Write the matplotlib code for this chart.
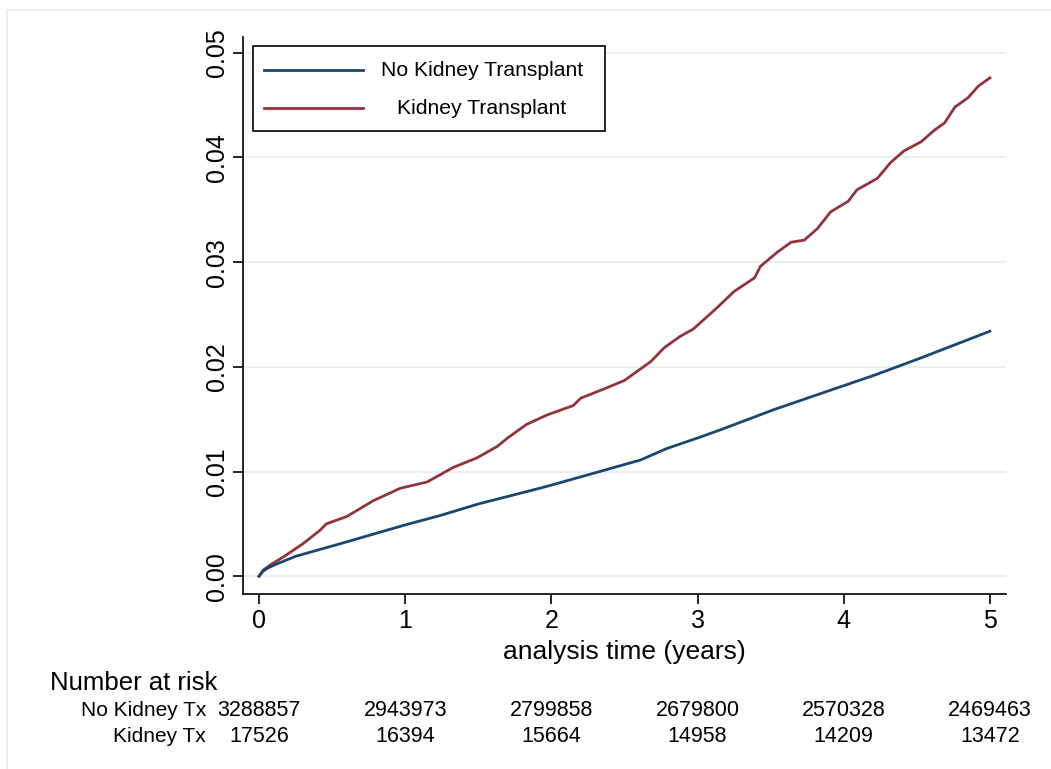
import matplotlib
matplotlib.use("Agg")
import matplotlib.pyplot as plt
import matplotlib.transforms as mtransforms
from matplotlib.patches import Rectangle
from matplotlib.lines import Line2D

plt.rcParams['font.family'] = ['Liberation Sans', 'DejaVu Sans']

# Data
t_no_tx = [0.0, 0.02, 0.05, 0.1, 0.25, 0.555, 1.0, 1.24, 1.5, 1.92, 2.0, 2.61, 2.79, 3.0, 3.16, 3.52, 4.0, 4.21, 4.5, 5.0]
v_no_tx = [0.0, 0.0004, 0.0007, 0.00105, 0.0019, 0.0031, 0.0049, 0.0058, 0.0069, 0.0084, 0.0087, 0.0111, 0.0122, 0.0132, 0.0140, 0.0159, 0.0182, 0.0192, 0.0207, 0.0234]

t_tx = [0.0, 0.03, 0.08, 0.167, 0.30, 0.418, 0.46, 0.60, 0.78, 0.966, 1.15, 1.33, 1.49, 1.63, 1.70,
        1.83, 1.97, 2.15, 2.20, 2.38, 2.50, 2.68, 2.77, 2.88, 2.97, 3.13, 3.25, 3.39, 3.43, 3.55,
        3.64, 3.73, 3.82, 3.91, 4.03, 4.09, 4.23, 4.32, 4.41, 4.53, 4.62, 4.69, 4.76, 4.85, 4.92, 5.0]
v_tx = [0.0, 0.0006, 0.0011, 0.00185, 0.0031, 0.0044, 0.0050, 0.0057, 0.0072, 0.0084, 0.0090, 0.0104, 0.0113, 0.0124, 0.0132,
        0.0145, 0.0154, 0.0163, 0.0170, 0.0180, 0.0187, 0.0205, 0.0218, 0.0229, 0.0236, 0.0256, 0.0272, 0.0285, 0.0296, 0.0310,
        0.0319, 0.0321, 0.0332, 0.0348, 0.0358, 0.0369, 0.0380, 0.0395, 0.0406, 0.0415, 0.0426, 0.0433, 0.0448, 0.0457, 0.0468, 0.0476]

labels = ["No Kidney Transplant", "Kidney Transplant"]
risk_times = [0, 1, 2, 3, 4, 5]
risk_no_tx = ["3288857", "2943973", "2799858", "2679800", "2570328", "2469463"]
risk_tx = ["17526", "16394", "15664", "14958", "14209", "13472"]
row_labels = ["No Kidney Tx", "Kidney Tx"]

yticks = [0.00, 0.01, 0.02, 0.03, 0.04, 0.05]
ytick_labels = ["0.00", "0.01", "0.02", "0.03", "0.04", "0.05"]

navy = "#1a476f"
maroon = "#90353b"
grid_c = "#eaf0f2"

W, H = 1051, 769
fig = plt.figure(figsize=(W / 100, H / 100), dpi=100)
fig.patch.set_facecolor("white")


def fx(px):
    return px / W


def fy(py):
    return 1 - py / H


# faint outer frame
fig.add_artist(Rectangle((fx(7), -0.1), 1.2, fy(10) + 0.1, transform=fig.transFigure,
                         fill=False, edgecolor="#e6eeee", linewidth=1.2))

ax = fig.add_axes([fx(243), fy(594), (1006 - 243) / W, (594 - 37) / H])
ax.set_xlim(-0.11, 5.11)
ax.set_ylim(-0.0017, 0.0515)

for y in yticks:
    ax.axhline(y, color=grid_c, linewidth=1.5, zorder=0)

ax.plot(t_no_tx, v_no_tx, color=navy, linewidth=2.0, zorder=3)
ax.plot(t_tx, v_tx, color=maroon, linewidth=2.0, zorder=2)

for s in ["top", "right"]:
    ax.spines[s].set_visible(False)
for s in ["left", "bottom"]:
    ax.spines[s].set_linewidth(1.2)
    ax.spines[s].set_color("black")

ax.set_yticks(yticks)
ax.set_yticklabels(ytick_labels, rotation=90, va="center", fontsize=18)
ax.set_xticks(risk_times)
ax.set_xticklabels([str(x) for x in risk_times], fontsize=18)
ax.tick_params(axis="both", direction="out", length=7, width=1.2, color="black")
ax.tick_params(axis="y", pad=3)
ax.tick_params(axis="x", pad=4)
ax.set_xlabel("analysis time (years)", fontsize=19, labelpad=5)

# Legend (Stata style: centred labels in a framed box)
fig.add_artist(Rectangle((fx(253), fy(131)), fx(605) - fx(253), fy(46) - fy(131),
                         transform=fig.transFigure, fill=True, facecolor="white",
                         edgecolor="black", linewidth=1.2, zorder=5))
for lab, col, py in zip(labels, [navy, maroon], [70, 108]):
    fig.add_artist(Line2D([fx(264), fx(363)], [fy(py), fy(py)], transform=fig.transFigure,
                          color=col, linewidth=2.0, zorder=6))
    fig.text(fx(482), fy(py), lab, fontsize=15.2, ha="center", va="center", zorder=6)

# Number at risk table
fig.text(fx(50), fy(683), "Number at risk", fontsize=18.5, ha="left", va="center")
trans = mtransforms.blended_transform_factory(ax.transData, fig.transFigure)
row_y = [fy(711), fy(737)]
for ry, lab, vals in zip(row_y, row_labels, [risk_no_tx, risk_tx]):
    fig.text(fx(206), ry, lab, fontsize=15, ha="right", va="center")
    for tt, val in zip(risk_times, vals):
        ax.text(tt, ry, val, transform=trans, fontsize=15.5, ha="center", va="center", clip_on=False)

fig.savefig("out.png", dpi=100, facecolor="white")
